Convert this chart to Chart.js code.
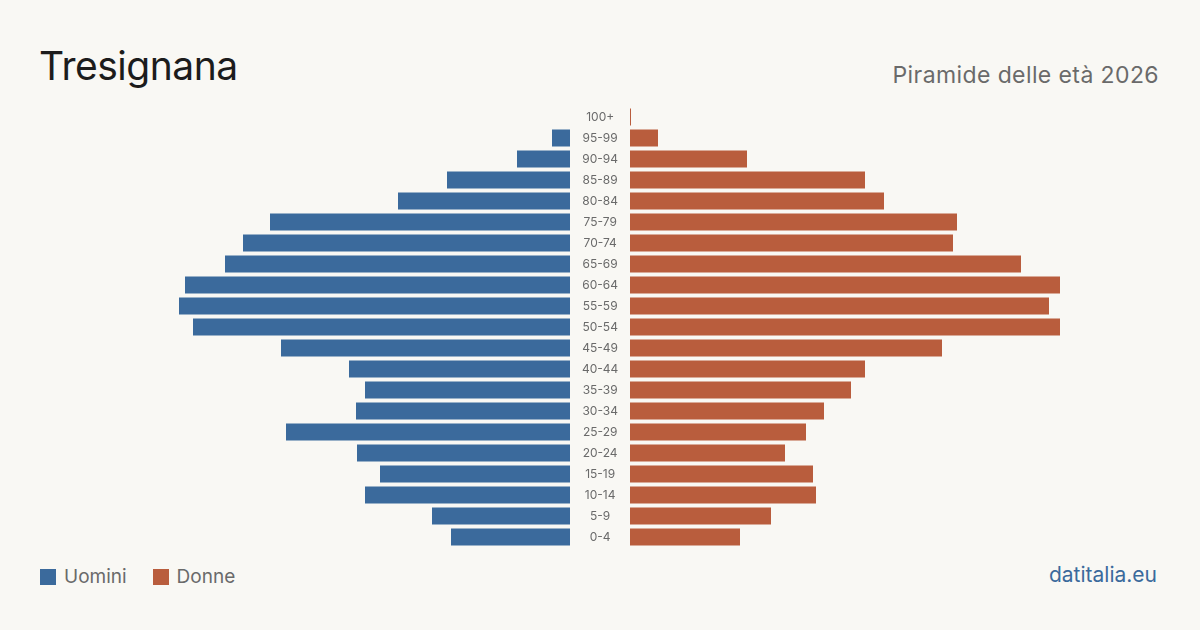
<!DOCTYPE html>
<html><head><meta charset="utf-8">
<script src="https://cdn.jsdelivr.net/npm/chart.js@4"></script>
<style>
html,body{margin:0;padding:0;background:#f9f8f4;}
#wrap{position:relative;width:1200px;height:630px;background:#f9f8f4;font-family:Inter,"Noto Sans",sans-serif;overflow:hidden;}
#title{position:absolute;left:39px;top:42px;font-size:39px;color:#1c1c1c;letter-spacing:-0.5px;}
#sub{position:absolute;right:41px;top:61px;font-size:23px;color:#6a6a6a;letter-spacing:0.4px;}
#legend{position:absolute;left:40px;top:565px;font-size:19px;color:#6a6a6a;display:flex;align-items:center;}
.sw{display:inline-block;width:16px;height:16px;margin-right:8px;}
#src{position:absolute;right:43px;top:562px;font-size:21px;color:#3b6a9c;}
#cl{position:absolute;left:0;top:0;width:630px;height:630px;}
#cr{position:absolute;left:630px;top:0;width:570px;height:630px;}
</style></head>
<body><div id="wrap">
<div id="title">Tresignana</div>
<div id="sub">Piramide delle età 2026</div>
<div id="legend"><span class="sw" style="background:#3b6a9c"></span><span style="margin-right:26px">Uomini</span><span class="sw" style="background:#b95d3d"></span><span>Donne</span></div>
<div id="src">datitalia.eu</div>
<div id="cl"><canvas id="left"></canvas></div>
<div id="cr"><canvas id="right"></canvas></div>
</div>
<script>
const ageGroups = ["100+","95-99","90-94","85-89","80-84","75-79","70-74","65-69","60-64","55-59","50-54","45-49","40-44","35-39","30-34","25-29","20-24","15-19","10-14","5-9","0-4"];
const men = [0,18,53,123,172,300,327,345,385,391,377,289,221,205,214,284,213,190,205,138,119];
const women = [1,28,117,235,254,327,323,391,430,419,430,312,235,221,194,176,155,183,186,141,110];
const seriesNames = ["Uomini","Donne"];
const maxValue = 440;

const common = {
  responsive:true, maintainAspectRatio:false, animation:false,
  indexAxis:'y',
  plugins:{legend:{display:false},tooltip:{enabled:false}},
};
new Chart(document.getElementById('left'),{
  type:'bar',
  data:{labels:ageGroups,datasets:[{label:seriesNames[0],data:men,backgroundColor:'#3b6a9c',barPercentage:0.81,categoryPercentage:1}]},
  options:{...common,
    layout:{padding:{left:130,right:0,top:106.5,bottom:82.5}},
    scales:{
      x:{display:false,reverse:true,min:0,max:maxValue},
      y:{position:'right',grid:{display:false},border:{display:false},
         afterFit:(s)=>{s.width=60;},
         ticks:{crossAlign:'center',padding:4,color:'#6a6a6a',font:{family:'Inter',size:12}}}
    }}
});
new Chart(document.getElementById('right'),{
  type:'bar',
  data:{labels:ageGroups,datasets:[{label:seriesNames[1],data:women,backgroundColor:'#b95d3d',barPercentage:0.81,categoryPercentage:1}]},
  options:{...common,
    layout:{padding:{left:0,right:130,top:106.5,bottom:82.5}},
    scales:{
      x:{display:false,min:0,max:maxValue},
      y:{display:false}
    }}
});
</script>
</body></html>
